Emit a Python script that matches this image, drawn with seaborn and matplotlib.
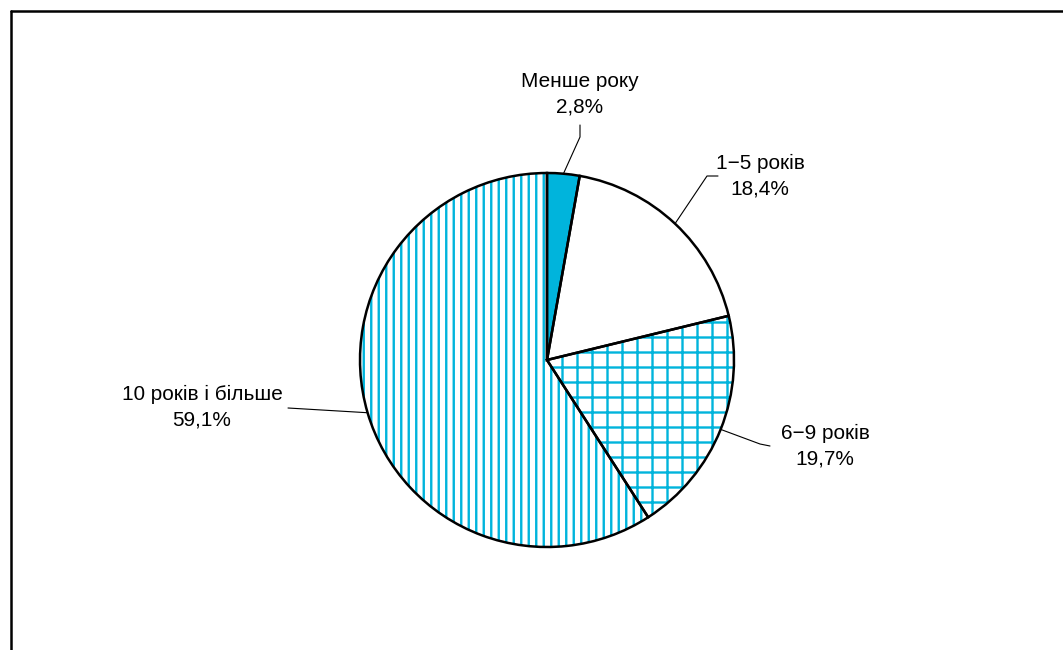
import matplotlib.pyplot as plt
import seaborn as sns
import numpy as np
from matplotlib.lines import Line2D

# Дані
categories = ['Менше року', '1\u22125 років', '6\u22129 років', '10 років і більше']
values = [2.8, 18.4, 19.7, 59.1]
value_labels = ['2,8%', '18,4%', '19,7%', '59,1%']

sns.set_theme(style='white')
plt.rcParams['font.family'] = ['Liberation Sans', 'DejaVu Sans']
plt.rcParams['hatch.linewidth'] = 1.9

cyan = '#00B4DC'
fills = [cyan, 'white', 'white', 'white']
hatches = [None, None, '+', '||']

W, H, DPI = 1063, 650, 90
fig = plt.figure(figsize=(W / DPI, H / DPI), dpi=DPI)
ax = fig.add_axes([0, 0, 1, 1])

cx, cy, r = 547, H - 360, 187

# Заливка та штрихування
wedges, _ = ax.pie(values, colors=fills, startangle=90, counterclock=False,
                   center=(cx, cy), radius=r, frame=True,
                   wedgeprops=dict(edgecolor=cyan, linewidth=0))
for w, h in zip(wedges, hatches):
    if h:
        w.set_hatch(h)
# Контур
ax.pie(values, colors=['none'] * 4, startangle=90, counterclock=False,
       center=(cx, cy), radius=r, frame=True,
       wedgeprops=dict(edgecolor='black', linewidth=2, fill=False))
ax.set_xlim(0, W)
ax.set_ylim(0, H)
ax.axis('off')

# Підписи з виносками
label_pos = [(580, 94), (760, 176), (825, 446), (202, 407)]
bends = [[(580, 137), (580, 125)], [(707, 176), (718, 176)],
         [(760, 444), (770, 446)], [(288, 408)]]

frac = np.cumsum([0] + values) / sum(values)
for i, (name, lab) in enumerate(zip(categories, value_labels)):
    mid = np.deg2rad(90 - 360 * (frac[i] + frac[i + 1]) / 2)
    pts = [(cx + r * np.cos(mid), cy + r * np.sin(mid))]
    pts += [(x, H - y) for x, y in bends[i]]
    xs, ys = zip(*pts)
    ax.plot(xs, ys, color='black', linewidth=0.9)
    tx, ty = label_pos[i]
    ax.text(tx, H - ty, f'{name}\n{lab}', ha='center', va='center',
            fontsize=16.6, linespacing=1.45, color='black')

# Рамка
fig.add_artist(Line2D([11 / W, 1], [1 - 11 / H, 1 - 11 / H], color='black',
                      linewidth=2, transform=fig.transFigure))
fig.add_artist(Line2D([11 / W, 11 / W], [0, 1 - 11 / H], color='black',
                      linewidth=2, transform=fig.transFigure))

plt.savefig('out.png', dpi=DPI)
